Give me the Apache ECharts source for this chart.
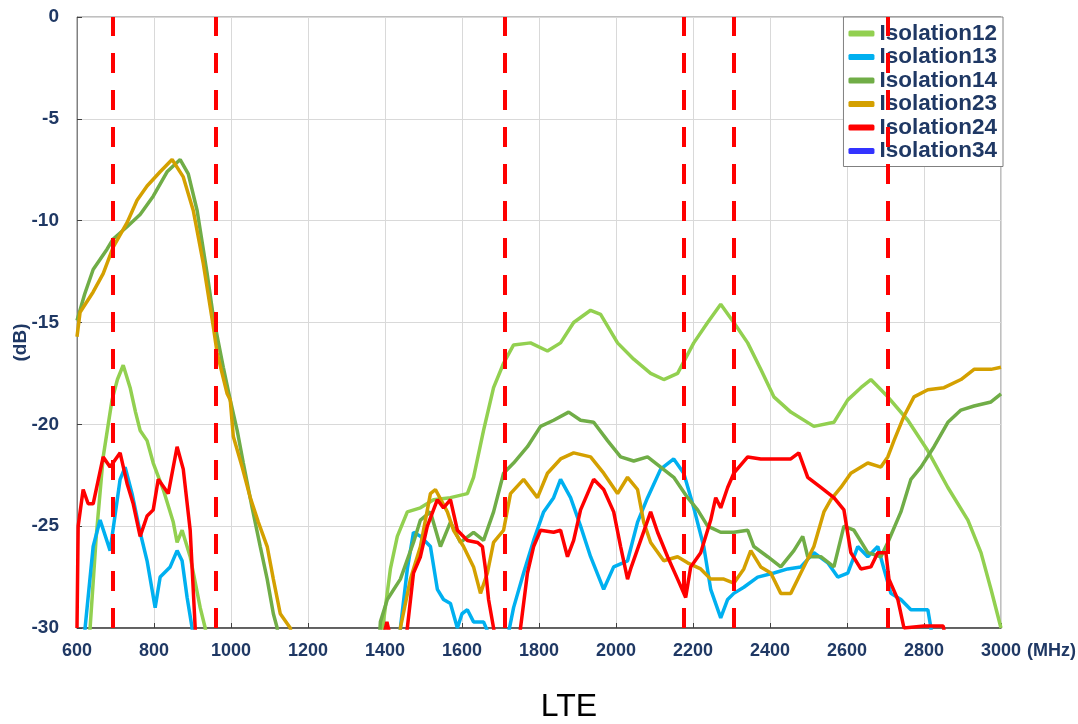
<!DOCTYPE html>
<html>
<head>
<meta charset="utf-8">
<script src="https://cdn.jsdelivr.net/npm/echarts@6/dist/echarts.min.js"></script>
<style>
  html, body { margin: 0; padding: 0; background: #fff; }
  #chart { width: 1078px; height: 724px; }
</style>
</head>
<body>
<div id="chart"></div>
<script>
// LTE isolation curves, [MHz, dB]; null breaks a curve where it drops out of range
let iso12 = [
  [629, -31], [634, -30], [650, -25.5], [668, -21.6], [691, -18.8], [705, -17.8], [720, -17.1],
  [738, -18.2], [752, -19.4], [764, -20.3], [782, -20.8], [798, -21.9], [824, -23.2], [850, -24.8],
  [860, -25.8], [873, -25.2], [894, -26.5], [920, -29.0], [933, -30], [940, -31], null,
  [1390, -31], [1396, -29.7], [1414, -27.1], [1432, -25.5], [1458, -24.3], [1492, -24.1], [1526, -23.7],
  [1570, -23.6], [1614, -23.4], [1630, -22.6], [1656, -20.3], [1682, -18.2], [1708, -17.0], [1734, -16.1],
  [1778, -16.0], [1822, -16.4], [1856, -16.0], [1890, -15.0], [1934, -14.4], [1960, -14.6], [2004, -16.0],
  [2046, -16.8], [2090, -17.5], [2124, -17.8], [2160, -17.5], [2202, -16.0], [2238, -15.0], [2272, -14.1],
  [2306, -15.0], [2342, -16.0], [2376, -17.3], [2410, -18.65], [2454, -19.4], [2514, -20.1], [2566, -19.9],
  [2602, -18.8], [2636, -18.2], [2662, -17.8], [2706, -18.65], [2758, -19.8], [2810, -21.3], [2862, -23.1],
  [2914, -24.7], [2948, -26.3], [2974, -28.1], [3000, -30]
];
let iso13 = [
  [618, -31], [621, -30], [642, -26.0], [660, -24.7], [686, -26.2], [712, -22.7], [725, -22.1],
  [743, -23.4], [764, -25.3], [782, -26.7], [803, -29.0], [816, -27.5], [842, -27.0], [860, -26.2],
  [873, -26.7], [886, -28.5], [899, -30], [903, -31], null,
  [1436, -31], [1440, -30], [1458, -27.1], [1474, -25.3], [1492, -25.5], [1518, -26.0], [1536, -28.1],
  [1552, -28.6], [1570, -28.8], [1588, -30], [1600, -29.3], [1614, -29.1], [1630, -29.7], [1656, -29.7],
  [1674, -30.5], [1718, -30.5], [1734, -29.0], [1760, -27.3], [1786, -25.7], [1812, -24.3], [1838, -23.6],
  [1856, -22.7], [1882, -23.6], [1908, -25.0], [1934, -26.5], [1968, -28.1], [1994, -27.0], [2030, -26.7],
  [2056, -24.8], [2082, -23.6], [2116, -22.2], [2150, -21.7], [2176, -22.4], [2202, -24.1], [2228, -26.0],
  [2246, -28.1], [2272, -29.5], [2290, -28.6], [2306, -28.3], [2332, -28.0], [2368, -27.5], [2410, -27.3],
  [2446, -27.1], [2480, -27.0], [2514, -26.3], [2550, -26.8], [2576, -27.5], [2602, -27.3], [2628, -26.0],
  [2654, -26.5], [2680, -26.0], [2696, -27.1], [2714, -28.3], [2740, -28.6], [2766, -29.1], [2792, -29.1],
  [2810, -29.1], [2818, -30], [2822, -31]
];
let iso14 = [
  [600, -14.9], [620, -13.6], [642, -12.4], [678, -11.4], [694, -10.9], [730, -10.3], [764, -9.7],
  [798, -8.8], [834, -7.6], [868, -7.0], [889, -7.7], [912, -9.5], [938, -12.6], [954, -14.7],
  [980, -17.2], [998, -18.8], [1016, -20.3], [1032, -21.9], [1055, -24.1], [1076, -26.0], [1094, -27.6],
  [1110, -29.3], [1120, -30], [1125, -31], null,
  [1384, -31], [1388, -29.7], [1406, -28.6], [1440, -27.6], [1474, -25.8], [1492, -24.7], [1518, -24.3],
  [1544, -26.0], [1570, -24.8], [1596, -25.8], [1630, -25.3], [1656, -25.7], [1682, -24.3], [1708, -22.4],
  [1734, -21.9], [1770, -21.1], [1804, -20.1], [1838, -19.8], [1877, -19.4], [1908, -19.8], [1942, -19.9],
  [1978, -20.8], [2012, -21.6], [2046, -21.8], [2082, -21.6], [2116, -22.1], [2150, -22.6], [2186, -23.6],
  [2212, -24.2], [2238, -25.0], [2272, -25.3], [2306, -25.3], [2342, -25.2], [2358, -26.0], [2394, -26.5],
  [2428, -27.0], [2462, -26.2], [2485, -25.5], [2498, -26.5], [2532, -26.5], [2566, -27.0], [2592, -25.0],
  [2618, -25.2], [2654, -26.3], [2688, -26.5], [2706, -25.8], [2740, -24.3], [2766, -22.7], [2792, -22.1],
  [2826, -21.1], [2862, -19.9], [2896, -19.3], [2930, -19.1], [2974, -18.9], [3000, -18.5]
];
let iso23 = [
  [600, -15.7], [608, -14.5], [642, -13.5], [668, -12.6], [694, -11.3], [730, -10.1], [756, -9.0],
  [782, -8.3], [816, -7.6], [847, -7.0], [876, -7.85], [902, -9.5], [928, -12.1], [954, -15.2],
  [964, -16.5], [990, -18.5], [998, -18.8], [1006, -20.6], [1029, -22.1], [1050, -23.6], [1071, -24.8],
  [1094, -26.0], [1110, -27.6], [1128, -29.3], [1154, -30], [1160, -31], null,
  [1436, -31], [1440, -30], [1466, -27.6], [1492, -26.0], [1518, -23.4], [1531, -23.2], [1562, -24.3],
  [1578, -25.2], [1604, -26.0], [1630, -27.0], [1648, -28.3], [1666, -27.3], [1682, -25.8], [1708, -25.2],
  [1726, -23.4], [1760, -22.7], [1796, -23.6], [1822, -22.4], [1856, -21.7], [1890, -21.4], [1934, -21.6],
  [1968, -22.4], [2004, -23.4], [2030, -22.6], [2056, -23.2], [2072, -24.8], [2090, -25.8], [2124, -26.7],
  [2160, -26.5], [2186, -26.8], [2220, -27.1], [2246, -27.6], [2280, -27.6], [2306, -27.8], [2332, -27.1],
  [2350, -26.2], [2376, -27.0], [2402, -27.3], [2428, -28.3], [2454, -28.3], [2480, -27.3], [2514, -26.0],
  [2540, -24.3], [2558, -23.7], [2584, -23.1], [2610, -22.4], [2654, -21.9], [2688, -22.1], [2706, -21.6],
  [2722, -20.8], [2748, -19.6], [2774, -18.65], [2810, -18.3], [2852, -18.2], [2896, -17.8], [2930, -17.3],
  [2974, -17.3], [3000, -17.2]
];
let iso24 = [
  [600, -30], [603, -25.0], [616, -23.2], [629, -23.9], [642, -23.9], [668, -21.6], [686, -22.1],
  [712, -21.4], [730, -22.9], [746, -23.9], [764, -25.5], [782, -24.5], [798, -24.2], [811, -22.7],
  [837, -23.4], [860, -21.1], [876, -22.2], [894, -25.2], [907, -30], [910, -31], null,
  [1395, -30.5], [1405, -29.7], [1415, -30.5], null,
  [1450, -31], [1458, -30], [1474, -27.3], [1492, -26.5], [1510, -25.0], [1536, -23.7], [1552, -24.1],
  [1570, -23.7], [1588, -25.2], [1614, -25.7], [1640, -25.8], [1653, -26.0], [1661, -27.1], [1669, -28.6],
  [1682, -30], [1690, -31], [1745, -31], [1752, -30], [1770, -27.3], [1786, -26.0], [1804, -25.2],
  [1838, -25.3], [1856, -25.2], [1874, -26.5], [1890, -25.7], [1908, -24.2], [1942, -22.7], [1968, -23.2],
  [1994, -24.3], [2012, -26.0], [2030, -27.6], [2038, -27.1], [2064, -25.7], [2090, -24.3], [2108, -25.3],
  [2134, -26.5], [2160, -27.6], [2181, -28.5], [2194, -27.0], [2220, -26.3], [2246, -24.7], [2259, -23.6],
  [2272, -24.1], [2290, -23.1], [2306, -22.4], [2342, -21.6], [2376, -21.7], [2420, -21.7], [2454, -21.7],
  [2475, -21.4], [2498, -22.6], [2532, -23.1], [2566, -23.6], [2592, -24.2], [2610, -26.3], [2636, -27.1],
  [2662, -27.0], [2680, -26.3], [2701, -26.3], [2709, -27.6], [2732, -28.6], [2748, -30], [2800, -29.9],
  [2850, -29.9], [2860, -31]
];
let iso34 = []; // not visible in the plotted range

// LTE band edges (red dashed markers)
let bandEdges = [694, 960, 1712, 2176, 2306, 2706];

let names = ['Isolation12', 'Isolation13', 'Isolation14', 'Isolation23', 'Isolation24', 'Isolation34'];
let colors = ['#92D050', '#00B0F0', '#70AD47', '#D4A000', '#FF0000', '#3333FF'];
let curves = [iso12, iso13, iso14, iso23, iso24, iso34];

let navy = '#1F3864';
let chart = echarts.init(document.getElementById('chart'));

let series = [];
for (let i = 0; i < names.length; i++) {
  series.push({
    name: names[i],
    type: 'line',
    data: curves[i],
    showSymbol: false,
    connectNulls: false,
    clip: true,
    lineStyle: { color: colors[i], width: 3.5 },
    itemStyle: { color: colors[i] }
  });
}
series.push({
  name: 'bands',
  type: 'line',
  data: [],
  z: 10,
  markLine: {
    silent: true,
    symbol: ['none', 'none'],
    label: { show: false },
    lineStyle: { color: '#FF0000', width: 4, type: [20, 17] },
    data: bandEdges.map(function(v) { return { xAxis: v }; })
  }
});

chart.setOption({
  animation: false,
  title: {
    text: 'LTE',
    left: 564,
    textAlign: 'center',
    top: 686,
    textStyle: { fontFamily: 'Liberation Sans', fontSize: 32, fontWeight: 'normal', color: '#000' }
  },
  grid: {
    left: 77, right: 77, top: 17, bottom: 96,
    outerBoundsMode: 'none',
    show: true, borderColor: '#808080', borderWidth: 1
  },
  legend: {
    data: names,
    orient: 'vertical',
    right: 75,
    top: 17,
    padding: [5, 6, 4, 5],
    itemGap: 0.5,
    itemWidth: 26,
    itemHeight: 6,
    icon: 'roundRect',
    backgroundColor: '#fff',
    borderColor: '#808080',
    borderWidth: 1,
    textStyle: { fontFamily: 'Liberation Sans', fontSize: 22.5, fontWeight: 'bold', color: navy, lineHeight: 22.5 }
  },
  xAxis: {
    type: 'value',
    min: 600, max: 3000, interval: 200,
    name: '(MHz)',
    nameLocation: 'end',
    nameGap: 24,
    nameTextStyle: { fontFamily: 'Liberation Sans', fontSize: 18, fontWeight: 'bold', color: navy, align: 'left', verticalAlign: 'top', padding: [14, 0, 0, 0] },
    axisLine: { onZero: false, lineStyle: { color: '#404040', width: 1.5 } },
    axisTick: { show: true, inside: true, length: 5, lineStyle: { color: '#404040' } },
    splitLine: { show: true, lineStyle: { color: '#D9D9D9', width: 1 } },
    axisLabel: {
      margin: 14, fontFamily: 'Liberation Sans', fontSize: 18, fontWeight: 'bold', color: navy,
      formatter: function(v) { return String(v); }
    }
  },
  yAxis: {
    type: 'value',
    min: -30, max: 0, interval: 5,
    name: '(dB)',
    nameLocation: 'middle',
    nameGap: 47,
    nameMoveOverlap: false,
    nameRotate: 90,
    nameTextStyle: { fontFamily: 'Liberation Sans', fontSize: 19, fontWeight: 'bold', color: navy, padding: [0, 0, 0, -40] },
    axisLine: { show: true, lineStyle: { color: '#808080', width: 1 } },
    axisTick: { show: true, inside: true, length: 5, lineStyle: { color: '#404040' } },
    splitLine: { show: true, lineStyle: { color: '#D9D9D9', width: 1 } },
    axisLabel: { margin: 18, fontFamily: 'Liberation Sans', fontSize: 19, fontWeight: 'bold', color: navy }
  },
  series: series
});
</script>
</body>
</html>
